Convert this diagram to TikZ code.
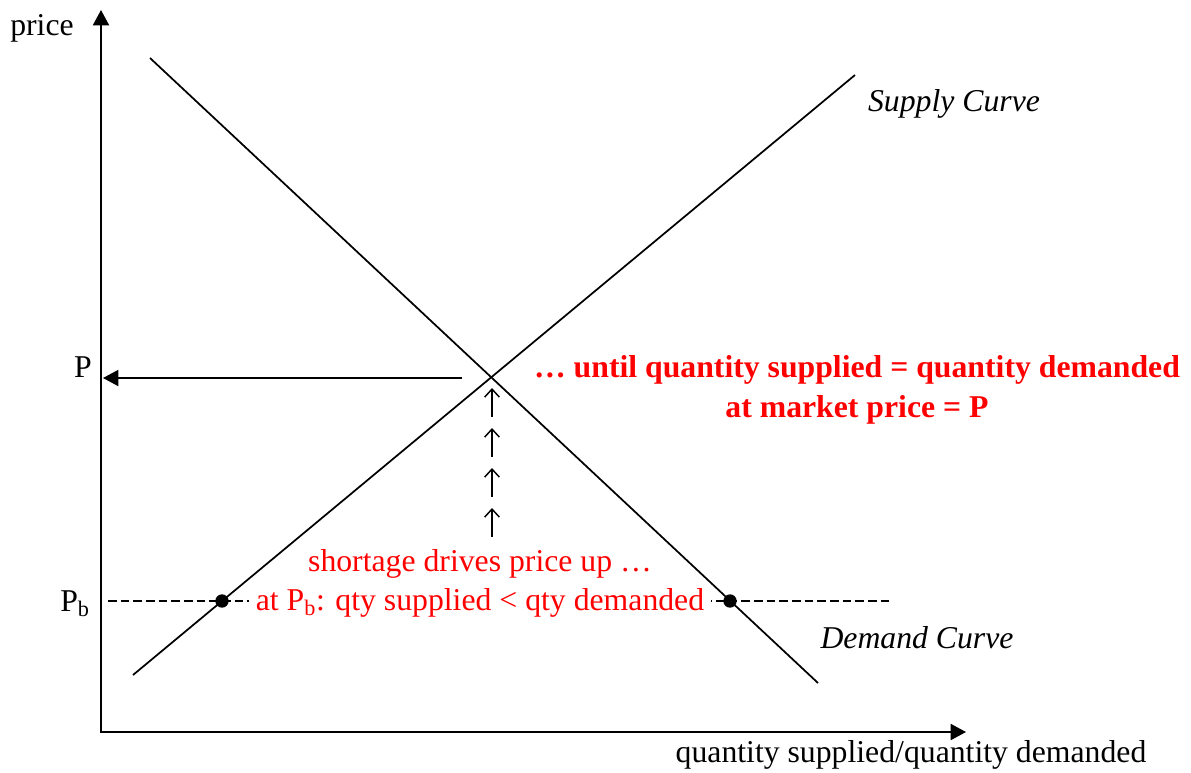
\documentclass[tikz,border=0pt]{standalone}
\usepackage{fontspec}
\setmainfont{Liberation Serif}
\usetikzlibrary{arrows.meta,positioning}
\definecolor{shortred}{HTML}{FF0000}
\tikzset{
  axis/.style={line width=1.5pt,-{Triangle[length=11.5pt,width=12pt]}},
  curve/.style={line width=1.3pt},
  lbl/.style={font=\fontsize{23.8}{28}\selectfont,inner sep=0pt},
  curvelbl/.style={lbl,font=\fontsize{23.8}{28}\selectfont\itshape},
  note/.style={lbl,text=shortred},
  bignote/.style={note,font=\fontsize{23.8}{30}\selectfont\bfseries,align=center},
  guide/.style={line width=0.9pt,dash pattern=on 6.5pt off 3pt},
  dot/.style={circle,fill=black,inner sep=0pt,minimum size=10pt},
  uparr/.style={line width=1.1pt,-{Straight Barb[length=6pt,width=11pt]}}
}
\begin{document}
\begin{tikzpicture}[x=0.75pt,y=-0.75pt]
  \useasboundingbox (0,0) rectangle (1191,772);
  % axes
  \coordinate (ybot) at (101,733);
  \coordinate (ytop) at (101,10);
  \coordinate (O) at (100,732);
  \coordinate (xend) at (966,732);
  \draw[axis] (ybot) -- (ytop);
  \draw[axis] (O) -- (xend);
  \node[lbl] (price) at (42,28) {price};
  \node[lbl] (qty) at (911,755) {quantity supplied/quantity demanded};

  % demand and supply
  \coordinate (d0) at (150,58);
  \coordinate (d1) at (818,683);
  \coordinate (s0) at (133,675);
  \coordinate (s1) at (855,75);
  \draw[curve] (d0) -- (d1);
  \draw[curve] (s0) -- (s1);
  \node[curvelbl] (supply) at (954,104) {Supply Curve};
  \node[curvelbl] (demand) at (917,638) {Demand Curve};

  % equilibrium price
  \coordinate (eq) at (462,378);
  \coordinate (pax) at (103,378);
  \draw[axis,line width=1.3pt] (eq) -- (pax);
  \node[lbl] (P) at (83,367) {P};

  % price below equilibrium
  \coordinate (g0) at (108,601);
  \coordinate (g1) at (890,601);
  \draw[guide] (g0) -- (g1);
  \node[dot] (ds) at (222,601) {};
  \node[dot] (dd) at (730,601) {};
  \node[lbl] (Pb) at (75,604) {P\textsubscript{b}};
  \node[note,fill=white,inner xsep=5pt] (gap) at (480,603)
    {at P\textsubscript{b}: qty supplied < qty demanded};
  \node[note] (drive) at (480,564) {shortage drives price up …};

  % price pushed up
  \foreach \y in {388,428,468,508}
    \draw[uparr] (492,\y+29) -- (492,\y);

  \node[bignote] (until) at (857,390)
    {… until quantity supplied = quantity demanded\\at market price = P};
\end{tikzpicture}
\end{document}
